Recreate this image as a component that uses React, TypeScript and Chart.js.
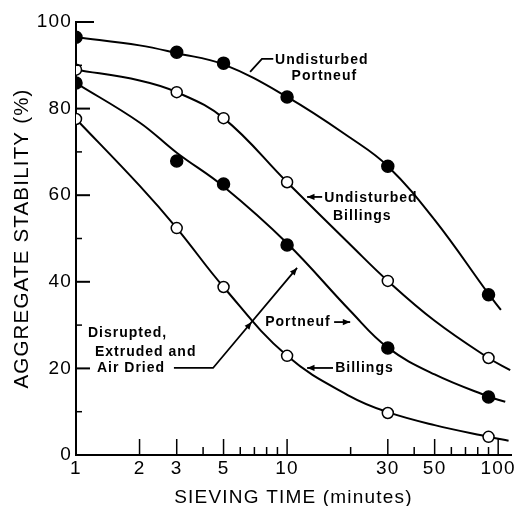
import React, { useEffect, useRef } from "react";
import { Chart, registerables } from "chart.js";

Chart.register(...registerables);

const sievingTimes = [1, 3, 5, 10, 30, 90];
const undisturbedPortneuf = [96.5, 93, 90.5, 82.7, 66.7, 37];
const undisturbedBillings = [89, 83.8, 77.8, 63, 40.2, 22.4];
const disruptedPortneuf = [85.9, 67.9, 62.6, 48.5, 24.7, 13.4];
const disruptedBillings = [77.6, 52.4, 38.8, 22.9, 9.7, 4.2];

// ---- hand-fitted curves ----
const curveTimes = [1, 2, 3, 5, 10, 20, 30, 50, 90];
const curveUndisturbedPortneuf = [96.5, 94.6, 92.8, 90.2, 82.7, 73.2, 66.7, 54.3, 37.2];
const curveUndisturbedBillings = [89, 86.5, 83.8, 77.8, 63, 48.5, 40.2, 31.0, 22.4];
const curveDisruptedPortneuf = [85.9, 76.8, 69.8, 62.0, 48.9, 33.2, 24.8, 18.6, 13.5];
const curveDisruptedBillings = [77.6, 62.2, 52.4, 38.8, 22.9, 13.5, 9.9, 6.9, 4.2];
// where each drawn curve ends
const curveEndTimes = [103, 114, 108, 112];
const curveEndValues = [33.5, 19.6, 12.3, 3.3];

const xTickValues = [1, 2, 3, 5, 10, 30, 50, 100];
const xMinorTicks = [4, 6, 7, 8, 9, 20, 40, 60, 70, 80, 90];
const yTickValues = [0, 20, 40, 60, 80, 100];
const yMinorTicks = [10, 30, 50, 70, 90];

const FONT = '"Liberation Sans", Arial, Helvetica, sans-serif';

type Note = {
  texts: [string, number, number][];
  leader?: [number, number][];
  arrowEnd?: boolean;
  extraArrow?: [number, number];
};

const notes: Note[] = [
  {
    texts: [["Undisturbed", 8.77, 91.2], ["Portneuf", 10.5, 87.5]],
    leader: [[6.68, 88.5], [7.6, 91.5], [8.6, 91.5]],
  },
  {
    texts: [["Undisturbed", 14.98, 59.4], ["Billings", 16.5, 55.2]],
    leader: [[14.66, 59.6], [12.44, 59.6]],
    arrowEnd: true,
  },
  {
    texts: [["Portneuf", 7.87, 30.7]],
    leader: [[16.7, 30.7], [19.9, 30.7]],
    arrowEnd: true,
  },
  {
    texts: [["Billings", 16.9, 20.1]],
    leader: [[16.5, 20.1], [12.44, 20.1]],
    arrowEnd: true,
  },
  {
    texts: [["Disrupted,", 1.14, 28.2], ["Extruded and", 1.23, 23.8], ["Air Dried", 1.257, 20.1]],
    leader: [[2.91, 20.1], [4.46, 20.1], [11.15, 43.2]],
    arrowEnd: true,
    extraArrow: [6.8, 30.7],
  },
];

function arrowHead(ctx: CanvasRenderingContext2D, x: number, y: number, ang: number, size: number) {
  ctx.beginPath();
  ctx.moveTo(x, y);
  ctx.lineTo(x - size * Math.cos(ang - 0.4), y - size * Math.sin(ang - 0.4));
  ctx.lineTo(x - size * Math.cos(ang + 0.4), y - size * Math.sin(ang + 0.4));
  ctx.closePath();
  ctx.fill();
}

const decorPlugin = {
  id: "decor",
  beforeDraw(chart: any) {
    const ctx = chart.ctx as CanvasRenderingContext2D;
    ctx.save();
    ctx.fillStyle = "#fff";
    ctx.fillRect(0, 0, chart.width, chart.height);
    ctx.restore();
    (ctx as any).letterSpacing = "1.2px";
  },
  afterDraw(chart: any) {
    const ctx = chart.ctx as CanvasRenderingContext2D;
    const xs = chart.scales.x;
    const ys = chart.scales.y;
    const x0 = xs.left;
    const y0 = ys.bottom;
    ctx.save();
    ctx.strokeStyle = "#000";
    ctx.fillStyle = "#000";
    ctx.lineCap = "butt";
    yTickValues.forEach((v) => {
      const py = ys.getPixelForValue(v);
      ctx.lineWidth = 2;
      ctx.beginPath();
      ctx.moveTo(x0, py);
      ctx.lineTo(x0 + (v === 100 ? 18 : 14), py);
      ctx.stroke();
    });
    yMinorTicks.forEach((v) => {
      const py = ys.getPixelForValue(v);
      ctx.lineWidth = 1.5;
      ctx.beginPath();
      ctx.moveTo(x0, py);
      ctx.lineTo(x0 + 6, py);
      ctx.stroke();
    });
    xTickValues.forEach((v) => {
      if (v === 1) return;
      const px = xs.getPixelForValue(v);
      ctx.lineWidth = 1.5;
      ctx.beginPath();
      ctx.moveTo(px, y0);
      ctx.lineTo(px, y0 - 16);
      ctx.stroke();
    });
    xMinorTicks.forEach((v) => {
      const px = xs.getPixelForValue(v);
      ctx.lineWidth = 1.5;
      ctx.beginPath();
      ctx.moveTo(px, y0);
      ctx.lineTo(px, y0 - 8);
      ctx.stroke();
    });

    (ctx as any).letterSpacing = "1px";
    ctx.font = `bold 14px ${FONT}`;
    ctx.textBaseline = "middle";
    ctx.textAlign = "left";
    const P = (p: [number, number]) => [xs.getPixelForValue(p[0]), ys.getPixelForValue(p[1])];
    notes.forEach((n) => {
      n.texts.forEach(([t, vx, vy]) => {
        const [px, py] = P([vx, vy]);
        ctx.fillText(t, px, py);
      });
      if (n.leader) {
        const pts = n.leader.map(P);
        ctx.lineWidth = 1.8;
        ctx.beginPath();
        pts.forEach(([px, py], i) => (i ? ctx.lineTo(px, py) : ctx.moveTo(px, py)));
        ctx.stroke();
        const a = pts[pts.length - 2];
        const b = pts[pts.length - 1];
        const ang = Math.atan2(b[1] - a[1], b[0] - a[0]);
        if (n.arrowEnd) arrowHead(ctx, b[0], b[1], ang, 8);
        if (n.extraArrow) {
          const [ex, ey] = P(n.extraArrow);
          arrowHead(ctx, ex, ey, ang, 8);
        }
      }
    });
    ctx.restore();
  },
};

function curve(values: number[], idx: number, label: string) {
  const pts = curveTimes.map((t, i) => ({ x: t, y: values[i] }));
  pts.push({ x: curveEndTimes[idx], y: curveEndValues[idx] });
  return {
    label,
    data: pts,
    order: 2,
    borderColor: "#000",
    borderWidth: 2,
    tension: 0.4,
    pointRadius: 0,
    fill: false,
  };
}

function markers(values: number[], filled: boolean, label: string) {
  return {
    label,
    data: sievingTimes.map((t, i) => ({ x: t, y: values[i] })),
    order: 1,
    showLine: false,
    pointRadius: filled ? 6 : 5.5,
    pointBackgroundColor: filled ? "#000" : "#fff",
    pointBorderColor: "#000",
    pointBorderWidth: 1.5,
  };
}

export default function App() {
  const ref = useRef<HTMLCanvasElement>(null);
  useEffect(() => {
    const canvas = ref.current!;
    const chart = new Chart(canvas, {
      type: "line",
      data: {
        datasets: [
          curve(curveUndisturbedPortneuf, 0, "Undisturbed Portneuf curve"),
          curve(curveUndisturbedBillings, 1, "Undisturbed Billings curve"),
          curve(curveDisruptedPortneuf, 2, "Portneuf curve"),
          curve(curveDisruptedBillings, 3, "Billings curve"),
          markers(undisturbedPortneuf, true, "Undisturbed Portneuf"),
          markers(undisturbedBillings, false, "Undisturbed Billings"),
          markers(disruptedPortneuf, true, "Portneuf"),
          markers(disruptedBillings, false, "Billings"),
        ],
      },
      options: {
        responsive: false,
        animation: false,
        devicePixelRatio: 1,
        layout: { padding: { top: 22, right: 9, bottom: 0, left: 0 } },
        plugins: { legend: { display: false }, tooltip: { enabled: false } },
        scales: {
          x: {
            type: "logarithmic",
            min: 1,
            max: 115,
            afterBuildTicks: (s: any) => {
              s.ticks = xTickValues.map((v) => ({ value: v }));
            },
            afterFit: (s: any) => {
              s.height = 51;
            },
            ticks: {
              autoSkip: false,
              maxRotation: 0,
              padding: 2,
              color: "#000",
              font: { family: FONT, size: 19 },
              callback: (v: any) => String(v),
            },
            grid: { display: false, drawTicks: false },
            border: { display: true, color: "#000", width: 2 },
            title: {
              display: true,
              text: "SIEVING TIME (minutes)",
              color: "#000",
              font: { family: FONT, size: 19, lineHeight: "16px" },
              padding: { top: 0, bottom: 0 },
            },
          },
          y: {
            type: "linear",
            min: 0,
            max: 100,
            afterFit: (s: any) => {
              s.width = 76;
            },
            ticks: {
              stepSize: 20,
              padding: 4,
              color: "#000",
              font: { family: FONT, size: 19 },
            },
            grid: { display: false, drawTicks: false },
            border: { display: true, color: "#000", width: 2 },
            title: {
              display: true,
              text: "AGGREGATE STABILITY (%)",
              color: "#000",
              font: { family: FONT, size: 20.5, lineHeight: "16px" },
              padding: { top: 14, bottom: 0 },
            },
          },
        },
      },
      plugins: [decorPlugin],
    } as any);
    return () => chart.destroy();
  }, []);
  return (
    <div style={{ position: "absolute", left: 0, top: 0, width: 520, height: 506 }}>
      <canvas ref={ref} width={520} height={506} style={{ display: "block", width: 520, height: 506 }} />
    </div>
  );
}
